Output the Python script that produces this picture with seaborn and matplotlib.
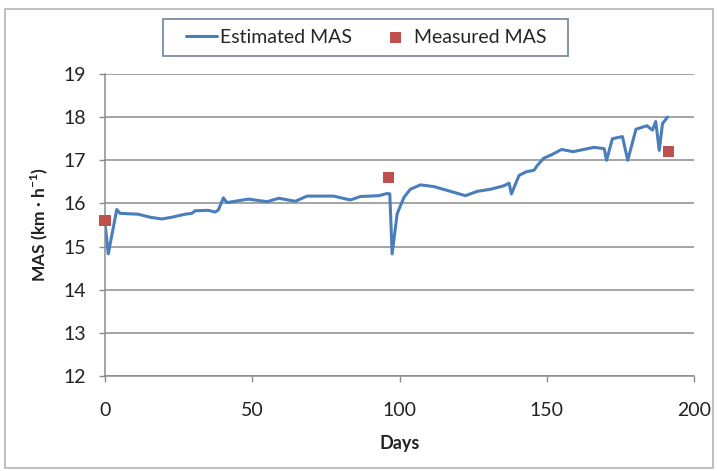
import matplotlib
matplotlib.use("Agg")
import matplotlib.pyplot as plt
import seaborn as sns
import pandas as pd
from matplotlib.patches import Rectangle

# Estimated MAS (line)
est_days = [0, 1.1, 4.0, 5.1, 11.3, 15.3, 19.3, 22.7, 27.2, 29.5, 30.6, 35.1, 37.4,
            38.5, 40.2, 41.4, 44.2, 48.7, 55.0, 59.0, 64.6, 68.6, 77.6, 83.3, 86.7,
            93.0, 95.8, 96.7, 97.5, 99.2, 101.5, 103.7, 107.1, 111.7, 117.3, 122.4,
            126.4, 131.0, 135.5, 137.2, 138.0, 140.6, 142.9, 145.7, 146.8, 149.0,
            151.4, 155.0, 159.0, 166.0, 169.5, 170.3, 172.3, 175.7, 177.5, 180.3,
            184.0, 185.9, 187.0, 188.2, 189.3, 191.0]
est_mas = [15.55, 14.83, 15.86, 15.77, 15.75, 15.68, 15.64, 15.68, 15.75, 15.77, 15.83,
           15.84, 15.80, 15.85, 16.13, 16.02, 16.05, 16.10, 16.04, 16.12, 16.05, 16.17,
           16.17, 16.08, 16.16, 16.18, 16.23, 16.22, 14.83, 15.76, 16.14, 16.33, 16.43,
           16.39, 16.28, 16.18, 16.28, 16.33, 16.41, 16.47, 16.22, 16.65, 16.73, 16.77,
           16.88, 17.05, 17.12, 17.25, 17.20, 17.30, 17.27, 17.00, 17.50, 17.55, 17.00,
           17.72, 17.80, 17.70, 17.90, 17.23, 17.85, 18.00]

# Measured MAS (points)
meas_days = [0, 96.4, 191.2]
meas_mas = [15.6, 16.6, 17.2]

y_ticks = [12, 13, 14, 15, 16, 17, 18, 19]
x_ticks = [0, 50, 100, 150, 200]

sns.set_theme(style="white")
plt.rcParams['font.family'] = ['Lato', 'DejaVu Sans']

W, H = 717, 471
fig = plt.figure(figsize=(W / 100, H / 100), dpi=100)
ax = fig.add_axes([105 / W, 1 - 376 / H, (694 - 105) / W, (376 - 74) / H])

# outer chart frame
fig.patches.append(Rectangle((5 / W, 3 / H), (713 - 5) / W, (462 - 3) / H,
                             transform=fig.transFigure, fill=False,
                             edgecolor="#b5b5b5", linewidth=1.2))
# legend box
fig.patches.append(Rectangle((163 / W, 1 - 56 / H), (568 - 163) / W, (56 - 19) / H,
                             transform=fig.transFigure, fill=False,
                             edgecolor="#7a8aa8", linewidth=1.3))

est_df = pd.DataFrame({"Days": est_days, "MAS": est_mas})
meas_df = pd.DataFrame({"Days": meas_days, "MAS": meas_mas})

sns.lineplot(data=est_df, x="Days", y="MAS", ax=ax, color="#4a7ebb", linewidth=2.2,
             label="Estimated MAS", sort=False)
sns.scatterplot(data=meas_df, x="Days", y="MAS", ax=ax, color="#c0504d", marker="s",
                s=64, edgecolor="none", label="Measured MAS", zorder=3, clip_on=False)

ax.set_xlim(0, 200)
ax.set_ylim(12, 19)
ax.set_xticks(x_ticks)
ax.set_yticks(y_ticks)
ax.grid(axis="y", color="#8c8c8c", linewidth=1.1)
ax.grid(axis="x", visible=False)
for s in ["top", "right"]:
    ax.spines[s].set_visible(False)
ax.spines["left"].set_color("#8c8c8c")
ax.spines["bottom"].set_color("#8c8c8c")
ax.spines["left"].set_linewidth(1.1)
ax.spines["bottom"].set_linewidth(1.1)
ax.tick_params(axis="both", which="both", direction="out", length=4.5, color="#8c8c8c",
               labelsize=14, labelcolor="#222222", left=True, bottom=True, width=1)
ax.tick_params(axis="x", pad=14)
ax.tick_params(axis="y", pad=9)
ax.set_xlabel("Days", fontsize=13, fontweight="bold", color="#222222", labelpad=12)
ax.set_ylabel("MAS (km \u00b7 h$^{\\mathregular{-1}}$)", fontsize=12.5, fontweight="bold",
              color="#222222", labelpad=10)

ax.get_legend().remove()
handles, labels = ax.get_legend_handles_labels()
leg = fig.legend(handles, labels, loc="center", bbox_to_anchor=(366 / W, 1 - 37.5 / H),
                 ncol=2, frameon=False, fontsize=14, handlelength=1.6,
                 handletextpad=0.15, columnspacing=1.45, borderpad=0.2)

fig.savefig("out.png", dpi=100)
